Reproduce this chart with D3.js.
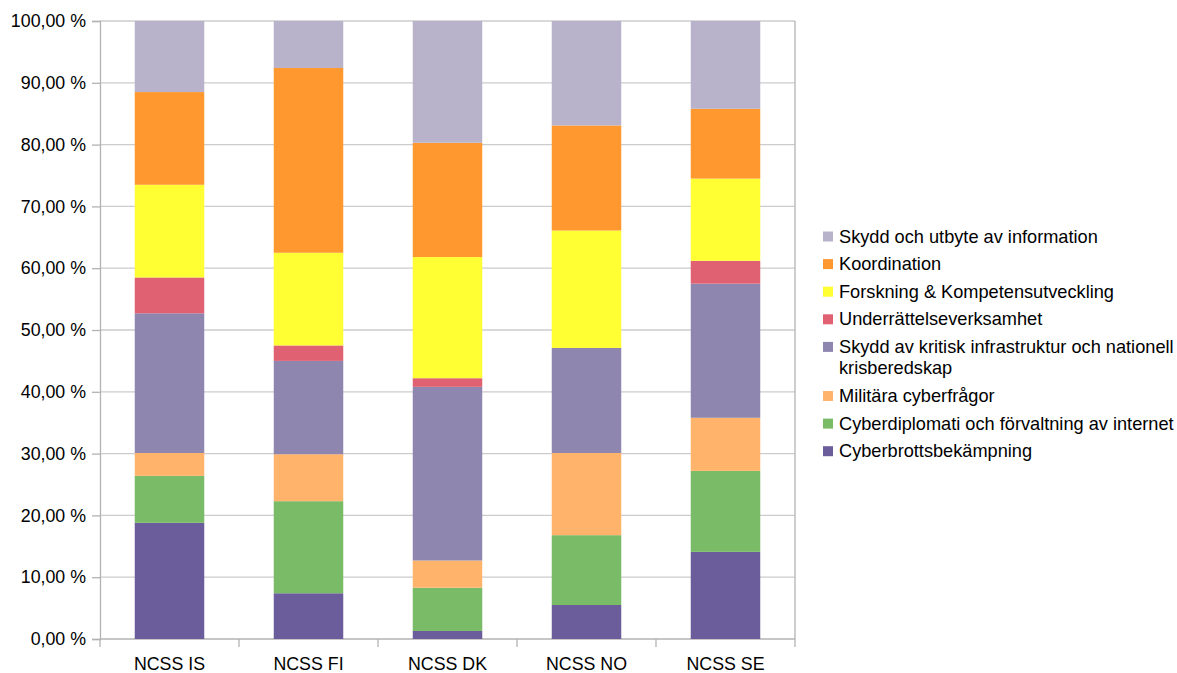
<!DOCTYPE html>
<html><head><meta charset="utf-8">
<script src="https://cdn.jsdelivr.net/npm/d3@7"></script>
<style>body{margin:0;background:#fff}svg{display:block;font-family:"Liberation Sans",Arial,sans-serif}</style>
</head><body>
<svg id="c" width="1177" height="673"></svg>
<script>
const categories = ["NCSS IS","NCSS FI","NCSS DK","NCSS NO","NCSS SE"];
const seriesNames = [
  "Cyberbrottsbekämpning",
  "Cyberdiplomati och förvaltning av internet",
  "Militära cyberfrågor",
  "Skydd av kritisk infrastruktur och nationell krisberedskap",
  "Underrättelseverksamhet",
  "Forskning & Kompetensutveckling",
  "Koordination",
  "Skydd och utbyte av information"
];
const cyberbrott   = [18.8, 7.4, 1.3, 5.5, 14.1];
const cyberdiplom  = [7.6, 14.9, 7.0, 11.3, 13.1];
const militara     = [3.7, 7.6, 4.4, 13.3, 8.6];
const kritisk      = [22.6, 15.1, 28.1, 17.0, 21.7];
const underratt    = [5.8, 2.5, 1.4, 0.0, 3.7];
const forskning    = [15.0, 15.0, 19.6, 19.0, 13.3];
const koordination = [15.0, 29.9, 18.5, 17.0, 11.3];
const skyddInfo    = [11.5, 7.6, 19.7, 16.9, 14.2];
const yTicks = [0,10,20,30,40,50,60,70,80,90,100];
const colors = ["#6b5c9b","#79bb66","#ffb36b","#8e86ae","#e06172","#ffff33","#ff982f","#b8b3cb"];

const seriesValues = [cyberbrott,cyberdiplom,militara,kritisk,underratt,forskning,koordination,skyddInfo];
const rows = categories.map((c,i)=>{const r={cat:c};seriesNames.forEach((s,j)=>r[s]=seriesValues[j][i]);return r;});
const stacked = d3.stack().keys(seriesNames)(rows);

const svg = d3.select("#c");
const L=100,R=795,T=21,B=639;
const x = d3.scaleBand().domain(categories).range([L,R]).paddingInner(0.5).paddingOuter(0.25);
const y = d3.scaleLinear().domain([0,100]).range([B,T]);

// gridlines
svg.append("g").selectAll("line").data(yTicks).join("line")
  .attr("x1",L).attr("x2",R).attr("y1",d=>y(d)).attr("y2",d=>y(d))
  .attr("stroke",d=>d===0?"#b3b3b3":"#cccccc").attr("stroke-width",1.3);

// bars
svg.append("g").selectAll("g").data(stacked).join("g").attr("fill",(d,i)=>colors[i])
  .selectAll("rect").data(d=>d).join("rect")
  .attr("x",d=>x(d.data.cat)).attr("width",x.bandwidth())
  .attr("y",d=>y(d[1])).attr("height",d=>y(d[0])-y(d[1]));

// axes
const fs = "17.8px";
const yAxis = svg.append("g").attr("transform",`translate(${L},0)`)
  .call(d3.axisLeft(y).tickValues(yTicks).tickSize(8).tickPadding(6)
    .tickFormat(d=>d3.format(".2f")(d).replace(".",",")+" %"));
yAxis.select(".domain").attr("stroke","#b3b3b3").attr("stroke-width",1.3);
yAxis.selectAll(".tick line").attr("stroke","#b3b3b3").attr("stroke-width",1.3);
yAxis.selectAll("text").attr("font-size",fs).attr("fill","#000").attr("font-family","Liberation Sans, Arial, sans-serif");

// right border
svg.append("line").attr("x1",R).attr("x2",R).attr("y1",T).attr("y2",B).attr("stroke","#b3b3b3").attr("stroke-width",1.3);

// x ticks at band boundaries
const bounds = d3.range(categories.length+1).map(i=>L+i*(R-L)/categories.length);
svg.append("g").selectAll("line").data(bounds).join("line")
  .attr("x1",d=>d).attr("x2",d=>d).attr("y1",B).attr("y2",B+8)
  .attr("stroke","#b3b3b3").attr("stroke-width",1.3);
svg.append("g").selectAll("text").data(categories).join("text")
  .attr("x",d=>x(d)+x.bandwidth()/2).attr("y",670).attr("text-anchor","middle")
  .attr("font-size",fs).attr("fill","#000").text(d=>d);

// legend
const legendItems = seriesNames.map((s,i)=>({name:s,color:colors[i]})).reverse();
const lines = {"Skydd av kritisk infrastruktur och nationell krisberedskap":["Skydd av kritisk infrastruktur och nationell","krisberedskap"]};
let cy = 236.5;
const lg = svg.append("g");
legendItems.forEach(it=>{
  lg.append("rect").attr("x",823).attr("y",cy-5).attr("width",10).attr("height",10).attr("fill",it.color);
  const ls = lines[it.name] || [it.name];
  const t = lg.append("text").attr("font-size","18.2px").attr("fill","#000");
  ls.forEach((l,k)=>t.append("tspan").attr("x",839).attr("y",cy+6+k*21.5).text(l));
  cy += 27.6 + (ls.length-1)*21.5;
});
</script>
</body></html>
